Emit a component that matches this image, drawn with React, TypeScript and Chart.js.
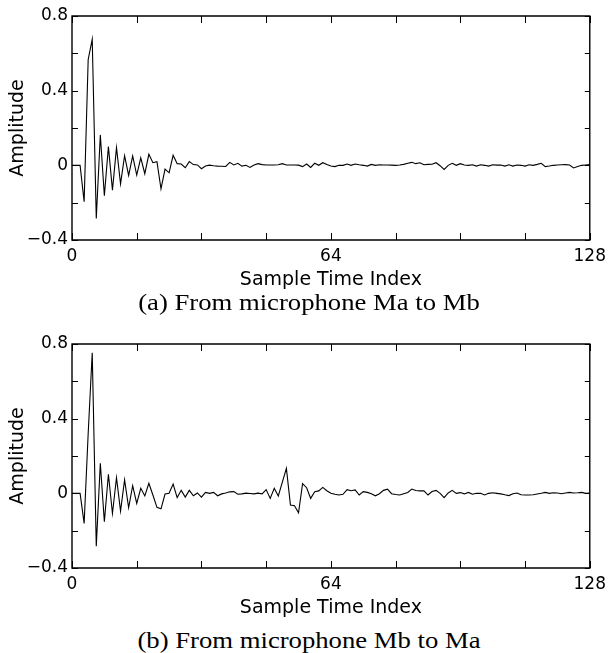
import React, { useEffect, useRef } from 'react';
import { Chart, registerables } from 'chart.js';

Chart.register(...registerables);

// Impulse response, microphone Ma -> Mb (sample index 0..128)
const ampAtoB = [
  0, 0, 0, -0.195, 0.567, 0.675, -0.285, 0.163, -0.163, 0.1,
  -0.133, 0.095, -0.099, 0.052, -0.054, 0.05, -0.052, 0.04, -0.045, 0.059,
  0.014, 0.02, -0.126, -0.02, -0.04, 0.054, 0.009, 0.007, -0.013, 0.02,
  0.004, 0.002, -0.018, -0.004, 0.001, -0.002, -0.004, -0.005, -0.006, 0.016,
  0.002, 0.011, -0.004, 0.0, -0.011, 0.002, 0.009, 0.004, 0.002, 0.002,
  0.002, 0.003, 0.009, 0.002, 0.002, 0.002, 0.001, -0.007, 0.007, -0.011,
  0.011, 0.0, 0.014, 0.004, -0.004, -0.007, 0.0, 0.0, 0.007, 0.0,
  0.007, 0.003, 0.0, -0.004, 0.005, 0.0, 0.003, 0.002, 0.002, 0.001,
  0.0, 0.002, 0.005, 0.011, 0.016, 0.009, 0.014, 0.003, 0.005, 0.006,
  0.014, -0.002, -0.022, 0.0, 0.011, 0.0, 0.009, 0.002, 0.0, 0.003,
  -0.004, 0.003, 0.0, -0.004, 0.003, 0.001, 0.002, -0.004, 0.003, -0.004,
  0.002, 0.0, -0.004, 0.003, 0.0, 0.005, 0.011, -0.007, -0.004, 0.0,
  0.002, 0.003, 0.004, 0.002, -0.014, -0.006, 0.0, 0.002, 0.004,
];

// Impulse response, microphone Mb -> Ma (sample index 0..128)
const ampBtoA = [
  0, 0, 0, -0.161, 0.32, 0.753, -0.283, 0.161, -0.152, 0.102,
  -0.108, 0.084, -0.095, 0.072, -0.077, 0.041, -0.054, 0.027, -0.014, 0.054,
  -0.009, -0.075, -0.083, -0.004, 0.0, 0.05, -0.023, 0.016, -0.02, 0.016,
  -0.013, 0.002, -0.02, 0.005, 0.0, 0.005, -0.013, -0.003, 0.002, 0.008,
  0.009, -0.005, -0.003, 0.001, -0.001, -0.003, 0.001, -0.003, 0.02, -0.027,
  0.027, -0.014, 0.06, 0.134, -0.063, -0.066, -0.104, 0.052, 0.03, -0.027,
  0.009, 0.013, 0.032, 0.014, 0.0, -0.005, -0.009, -0.005, 0.02, 0.014,
  0.018, -0.009, 0.009, 0.005, -0.002, -0.013, -0.002, 0.016, 0.022, -0.002,
  -0.006, -0.009, -0.002, 0.005, 0.023, 0.015, 0.013, 0.013, -0.009, 0.01,
  0.016, 0.0, -0.023, 0.002, 0.016, 0.0, 0.004, -0.003, 0.005, -0.005,
  0.0, 0.0, -0.009, 0.0, 0.003, 0.0, -0.003, -0.008, -0.012, -0.002,
  0.002, -0.008, -0.009, -0.009, -0.008, -0.004, 0.0, 0.005, 0.0, 0.003,
  0.002, -0.002, 0.002, 0.005, 0.002, 0.003, 0.005, 0.0, 0.002,
];

const xTickValues = [0, 64, 128];
const xTickLabels = ['0', '64', '128'];
const yTickValues = [-0.4, 0, 0.4, 0.8];
const yTickLabels = ['\u22120.4', '0', '0.4', '0.8'];
const xMinorStep = 16;
const yMinorStep = 0.2;
const xAxisTitle = 'Sample Time Index';
const yAxisTitle = 'Amplitude';
const captionA = '(a) From microphone Ma to Mb';
const captionB = '(b) From microphone Mb to Ma';

const SANS = '"DejaVu Sans", sans-serif';

const framePlugin = {
  id: 'frameTicks',
  afterDatasetsDraw(chart: any) {
    const { ctx, chartArea, scales } = chart;
    const { left, right, top, bottom } = chartArea;
    ctx.save();
    ctx.strokeStyle = '#000';
    ctx.lineWidth = 1.4;
    ctx.beginPath();
    ctx.rect(left, top, right - left, bottom - top);
    ctx.stroke();
    ctx.lineWidth = 1;
    ctx.beginPath();
    const xs = scales.x;
    const ys = scales.y;
    for (let v = xs.min; v <= xs.max + 1e-9; v += xMinorStep) {
      const px = Math.round(xs.getPixelForValue(v)) + 0.5;
      ctx.moveTo(px, bottom);
      ctx.lineTo(px, bottom - 7);
      ctx.moveTo(px, top);
      ctx.lineTo(px, top + 7);
    }
    for (let v = ys.min; v <= ys.max + 1e-9; v += yMinorStep) {
      const py = Math.round(ys.getPixelForValue(v)) + 0.5;
      ctx.moveTo(left, py);
      ctx.lineTo(left + 6, py);
      ctx.moveTo(right, py);
      ctx.lineTo(right - 5, py);
    }
    ctx.stroke();
    ctx.restore();
  },
};

function labelFor(value: number, values: number[], labels: string[]) {
  for (let i = 0; i < values.length; i++) {
    if (Math.abs(values[i] - value) < 1e-6) return labels[i];
  }
  return '';
}

const CANVAS_H = 293;

function ImpulseChart({ values }: { values: number[] }) {
  const ref = useRef<HTMLCanvasElement | null>(null);
  useEffect(() => {
    if (!ref.current) return;
    const points = values.map((v, i) => ({ x: i, y: v }));
    const chart = new Chart(ref.current, {
      type: 'line',
      data: {
        datasets: [
          {
            data: points,
            borderColor: '#000',
            borderWidth: 1.1,
            pointRadius: 0,
            tension: 0,
            fill: false,
          },
        ],
      },
      plugins: [framePlugin],
      options: {
        responsive: false,
        animation: false,
        events: [],
        layout: { padding: { left: 0, right: 18, top: 16, bottom: 0 } },
        plugins: { legend: { display: false }, tooltip: { enabled: false } },
        scales: {
          x: {
            type: 'linear',
            min: 0,
            max: 128,
            grid: { display: false, drawTicks: false },
            border: { display: false },
            ticks: {
              stepSize: xMinorStep,
              autoSkip: false,
              maxRotation: 0,
              padding: 6,
              color: '#000',
              font: { family: SANS, size: 17 },
              callback: (v: any) => labelFor(Number(v), xTickValues, xTickLabels),
            },
            title: {
              display: true,
              text: xAxisTitle,
              color: '#000',
              font: { family: SANS, size: 19 },
              padding: { top: 0, bottom: 2 },
            },
            afterFit: (scale: any) => {
              scale.height = CANVAS_H - 240;
            },
          },
          y: {
            type: 'linear',
            min: -0.4,
            max: 0.8,
            grid: { display: false, drawTicks: false },
            border: { display: false },
            ticks: {
              stepSize: yMinorStep,
              padding: 4,
              color: '#000',
              font: { family: SANS, size: 17 },
              callback: (v: any) => labelFor(Math.round(Number(v) * 10) / 10, yTickValues, yTickLabels),
            },
            title: {
              display: true,
              text: yAxisTitle,
              color: '#000',
              font: { family: SANS, size: 19 },
              padding: { top: 7, bottom: 0 },
            },
            afterFit: (scale: any) => {
              scale.width = 72;
            },
          },
        },
      },
    } as any);
    return () => chart.destroy();
  }, [values]);
  return <canvas ref={ref} width={612} height={CANVAS_H} style={{ width: 612, height: CANVAS_H, display: 'block' }} />;
}

const captionStyle: React.CSSProperties = {
  position: 'absolute',
  left: 0,
  width: 618,
  textAlign: 'center',
  fontFamily: '"Liberation Serif", "Times New Roman", serif',
  fontSize: 23,
  lineHeight: '23px',
  color: '#000',
  transform: 'scaleX(1.16)',
  transformOrigin: '309px 50%',
  whiteSpace: 'nowrap',
};

export default function App() {
  return (
    <div style={{ position: 'absolute', left: 0, top: 0, width: 612, height: 653, background: '#fff', overflow: 'hidden' }}>
      <div style={{ position: 'absolute', left: 0, top: 0 }}>
        <ImpulseChart values={ampAtoB} />
      </div>
      <div style={{ position: 'absolute', left: 0, top: 328 }}>
        <ImpulseChart values={ampBtoA} />
      </div>
      <div style={{ ...captionStyle, top: 291 }}>{captionA}</div>
      <div style={{ ...captionStyle, top: 629 }}>{captionB}</div>
    </div>
  );
}
